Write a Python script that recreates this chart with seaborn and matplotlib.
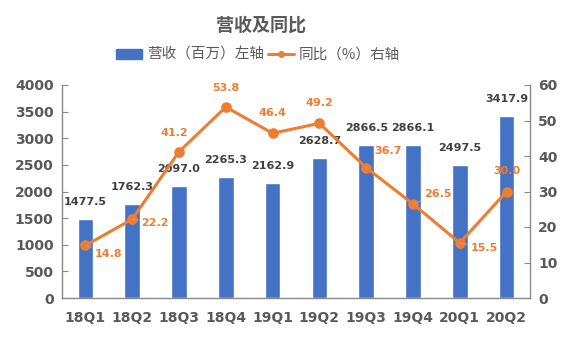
import numpy as np
import pandas as pd
import matplotlib
matplotlib.use("Agg")
import matplotlib.pyplot as plt
import seaborn as sns
from matplotlib.patches import Patch
from matplotlib.lines import Line2D

quarters = ["18Q1", "18Q2", "18Q3", "18Q4", "19Q1", "19Q2", "19Q3", "19Q4", "20Q1", "20Q2"]
revenue = [1477.5, 1762.3, 2097.0, 2265.3, 2162.9, 2628.7, 2866.5, 2866.1, 2497.5, 3417.9]
yoy = [14.8, 22.2, 41.2, 53.8, 46.4, 49.2, 36.7, 26.5, 15.5, 30.0]
left_ticks = [0, 500, 1000, 1500, 2000, 2500, 3000, 3500, 4000]
right_ticks = [0, 10, 20, 30, 40, 50, 60]

BLUE = "#4472C4"
ORANGE = "#ED7D31"
GRAY = "#595959"
SPINE = "#898989"

sns.set_style("white")
plt.rcParams["font.family"] = ["DejaVu Sans", "Noto Sans CJK SC"]
CJK = ["Noto Sans CJK SC", "DejaVu Sans"]

df = pd.DataFrame({"quarter": quarters, "revenue": revenue, "yoy": yoy})

fig = plt.figure(figsize=(5.71, 3.43), dpi=100)
ax = fig.add_axes([62/571, 45/343, (530-62)/571, (298-85)/343])
sns.barplot(data=df, x="quarter", y="revenue", color=BLUE, width=0.33,
            saturation=1, ax=ax)
ax2 = ax.twinx()
sns.pointplot(data=df, x="quarter", y="yoy", color=ORANGE, markers="o",
              linewidth=2.2, markersize=6, ax=ax2)

for a in (ax, ax2):
    a.set_xlim(-0.5, 9.5)
    a.set_xlabel("")
    a.set_ylabel("")
ax.set_ylim(0, 4000)
ax2.set_ylim(0, 60)
ax.set_yticks(left_ticks)
ax2.set_yticks(right_ticks)
ax.set_xticks(range(len(quarters)))
ax.set_xticklabels(quarters)
ax.set_xticks(np.arange(0.5, 9.5, 1.0), minor=True)

for a in (ax, ax2):
    for s in a.spines.values():
        s.set_visible(False)
ax.spines["left"].set_visible(True)
ax.spines["bottom"].set_visible(True)
ax2.spines["right"].set_visible(True)
for s in (ax.spines["left"], ax.spines["bottom"], ax2.spines["right"]):
    s.set_color(SPINE)
    s.set_linewidth(1.0)

ax.tick_params(axis="x", which="major", length=0, pad=9, labelsize=10,
               labelcolor=GRAY)
ax.tick_params(axis="x", which="minor", direction="in", length=4,
               color=SPINE)
ax.tick_params(axis="y", direction="in", length=4, color=SPINE,
               labelsize=10, labelcolor=GRAY, pad=6)
ax2.tick_params(axis="y", direction="in", length=4, color=SPINE,
                labelsize=10, labelcolor=GRAY, pad=6)
for lab in ax.get_xticklabels() + ax.get_yticklabels() + ax2.get_yticklabels():
    lab.set_fontweight("bold")
ax2.grid(False)
ax.grid(False)

# bar labels
for i, v in enumerate(revenue):
    ax.annotate(f"{v:.1f}", xy=(i, v), xytext=(0, 17),
                textcoords="offset pixels", ha="center", va="center",
                fontsize=8, fontweight="bold", color="#404040")

# line labels (pixel offsets)
offs = [(23, -9), (23, -4), (-5, 19), (0, 19), (0, 20), (0, 20),
        (22, 17), (25, 10), (25, -5), (0, 20)]
leader = [True, True, False, False, False, False, True, True, True, False]
for i, v in enumerate(yoy):
    kw = {}
    if leader[i]:
        kw["arrowprops"] = dict(arrowstyle="-", color="#A6A6A6", lw=0.6,
                                shrinkA=9, shrinkB=0)
    ax2.annotate(f"{v:.1f}", xy=(i, v), xytext=offs[i],
                 textcoords="offset pixels", ha="center", va="center",
                 fontsize=8, fontweight="bold", color=ORANGE, **kw)

fig.text(0.457, 0.927, "营收及同比", ha="center", va="center",
         fontsize=13, fontweight="bold", color=GRAY, family=CJK)

handles = [Patch(facecolor=BLUE, edgecolor=BLUE),
           Line2D([0], [0], color=ORANGE, lw=2.2, marker="o", markersize=4)]
leg = fig.legend(handles, ["营收（百万）左轴", "同比（%）右轴"],
                 loc="center", bbox_to_anchor=(0.452, 0.84), ncol=2,
                 frameon=False, handlelength=1.8, handletextpad=0.3,
                 columnspacing=0.3, prop={"family": CJK, "size": 10.5})
for t in leg.get_texts():
    t.set_color(GRAY)

fig.savefig("out.png", dpi=100)
